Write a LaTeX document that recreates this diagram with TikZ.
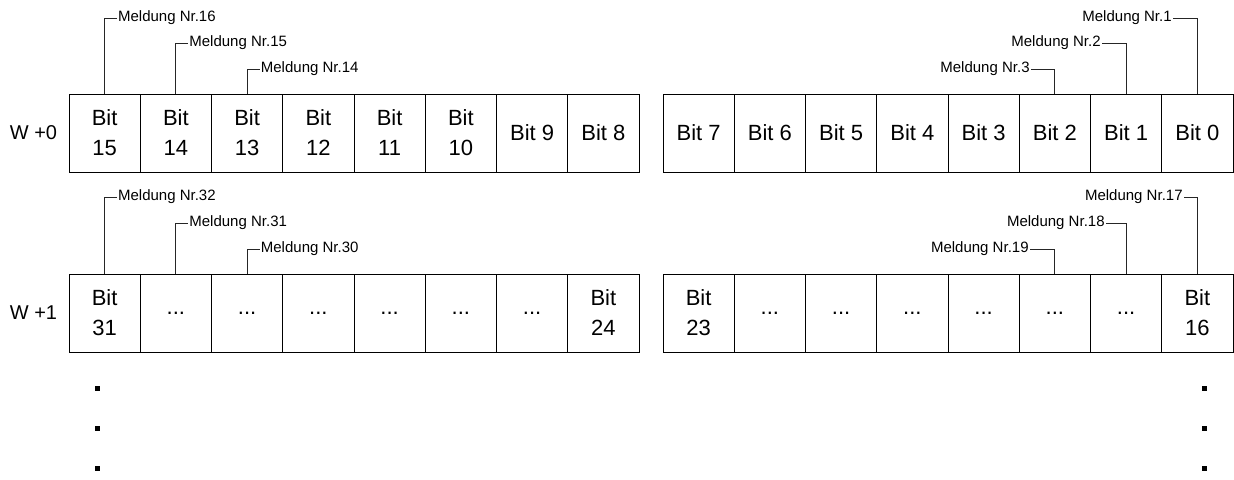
\documentclass[tikz,border=0pt]{standalone}
\usepackage{fontspec}
\setmainfont{Liberation Sans}
\usetikzlibrary{positioning}
\newcommand{\tripdot}{...}

\begin{document}
\begin{tikzpicture}[
      x=0.5pt, y=0.5pt,
      cell/.style={rectangle, draw, line width=0.5pt, minimum width=35.625pt, minimum height=39pt,
        inner sep=0pt, align=center, font=\fontsize{11}{15}\selectfont},
      meld/.style={inner sep=0.5pt, font=\fontsize{7.5}{9}\selectfont},
      wlabel/.style={font=\fontsize{10}{12}\selectfont},
      leader/.style={line width=0.5pt, black!85}
    ]
      \useasboundingbox (0,0) rectangle (1234,479);
      \node[wlabel] (w0) at (33.5,346) {W +0};
      \node[wlabel] (w1) at (33.5,166) {W +1};
      \foreach \t [count=\k from 1] in {{Bit\\15},{Bit\\14},{Bit\\13},{Bit\\12},{Bit\\11},{Bit\\10},{Bit 9},{Bit 8}} {
        \pgfmathtruncatemacro{\b}{16-\k}
        \node[cell] (b\b) at (69+71.25*\k-35.625,346) {\t};
      }
      \foreach \t [count=\k from 1] in {{Bit 7},{Bit 6},{Bit 5},{Bit 4},{Bit 3},{Bit 2},{Bit 1},{Bit 0}} {
        \pgfmathtruncatemacro{\b}{8-\k}
        \node[cell] (b\b) at (663+71.25*\k-35.625,346) {\t};
      }
      \foreach \t [count=\k from 1] in {{Bit\\31},\tripdot,\tripdot,\tripdot,\tripdot,\tripdot,\tripdot,{Bit\\24}} {
        \pgfmathtruncatemacro{\b}{32-\k}
        \node[cell] (b\b) at (69+71.25*\k-35.625,166) {\t};
      }
      \foreach \t [count=\k from 1] in {{Bit\\23},\tripdot,\tripdot,\tripdot,\tripdot,\tripdot,\tripdot,{Bit\\16}} {
        \pgfmathtruncatemacro{\b}{24-\k}
        \node[cell] (b\b) at (663+71.25*\k-35.625,166) {\t};
      }
      \node[meld, anchor=west] (m16) at (116.7,461) {Meldung Nr.16};
      \node[meld, anchor=west] (m15) at (188,436) {Meldung Nr.15};
      \node[meld, anchor=west] (m14) at (259.5,410) {Meldung Nr.14};
      \node[meld, anchor=east] (m1) at (1173,461) {Meldung Nr.1};
      \node[meld, anchor=east] (m2) at (1102,436) {Meldung Nr.2};
      \node[meld, anchor=east] (m3) at (1031,410) {Meldung Nr.3};
      \node[meld, anchor=west] (m32) at (116.7,282) {Meldung Nr.32};
      \node[meld, anchor=west] (m31) at (188,256) {Meldung Nr.31};
      \node[meld, anchor=west] (m30) at (259.5,230) {Meldung Nr.30};
      \node[meld, anchor=east] (m17) at (1184,282) {Meldung Nr.17};
      \node[meld, anchor=east] (m18) at (1106,256) {Meldung Nr.18};
      \node[meld, anchor=east] (m19) at (1030,230) {Meldung Nr.19};
      \foreach \c/\m in {b15/m16,b14/m15,b13/m14,b31/m32,b30/m31,b29/m30}
        \draw[leader] (\c.north) |- (\m.west);
      \foreach \c/\m in {b0/m1,b1/m2,b2/m3,b16/m17,b17/m18,b18/m19}
        \draw[leader] (\c.north) |- (\m.east);
      \foreach \y in {91,51,11} {
        \fill (95,\y-2.5) rectangle ++(5,5);
        \fill (1201.5,\y-2.5) rectangle ++(5,5);
      }
\end{tikzpicture}
\end{document}
